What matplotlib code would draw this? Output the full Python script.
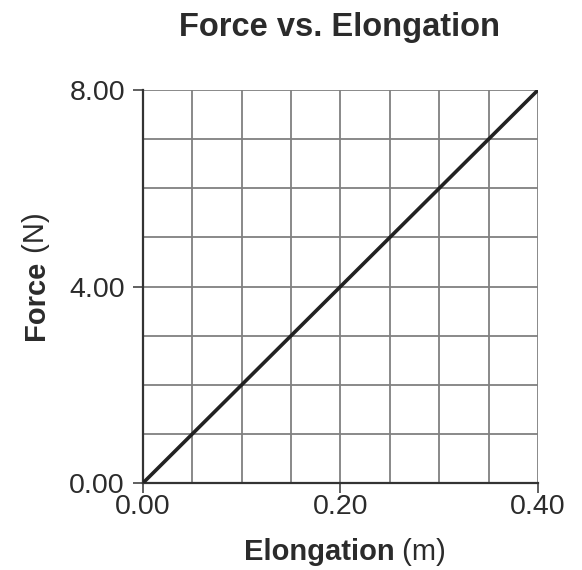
import matplotlib
matplotlib.use("Agg")
import matplotlib.pyplot as plt
import numpy as np

plt.rcParams['font.family'] = ['Liberation Sans', 'DejaVu Sans']

# data
elongation = [0.00, 0.40]
force = [0.00, 8.00]
x_ticks = [0.00, 0.20, 0.40]
y_ticks = [0.00, 4.00, 8.00]
x_grid = [0.05, 0.10, 0.15, 0.20, 0.25, 0.30, 0.35, 0.40]
y_grid = [1, 2, 3, 4, 5, 6, 7, 8]

TEXT_COLOR = '#2b2b2b'

fig = plt.figure(figsize=(5.82, 5.70), dpi=100)
ax = fig.add_axes([0.2457, 0.1526, 0.6787, 0.6895])

# grid drawn by hand so minor lines match the paper grid
for gx in x_grid:
    ax.axvline(gx, color='#808080', lw=1.3, zorder=1)
for gy in y_grid:
    ax.axhline(gy, color='#808080', lw=1.3, zorder=1)

ax.plot(elongation, force, color='#222222', lw=2.6, zorder=3, solid_capstyle='butt')

ax.set_xlim(0, 0.40)
ax.set_ylim(0, 8.00)
ax.set_xticks(x_ticks)
ax.set_yticks(y_ticks)
ax.set_xticklabels([f'{v:.2f}' for v in x_ticks])
ax.set_yticklabels([f'{v:.2f}' for v in y_ticks])
ax.tick_params(direction='out', length=7, width=1.2, color='#444444',
               labelsize=20.5, labelcolor=TEXT_COLOR)
ax.tick_params(axis='y', pad=6)
ax.tick_params(axis='x', pad=1)

for side in ['top', 'right']:
    ax.spines[side].set_visible(False)
for side in ['left', 'bottom']:
    ax.spines[side].set_color('#333333')
    ax.spines[side].set_linewidth(1.6)
    ax.spines[side].set_zorder(2)

fig.text(0.584, 0.951, 'Force vs. Elongation', ha='center', va='center',
         fontsize=23.5, fontweight='bold', color=TEXT_COLOR)

# x label: bold word + regular units
xl = fig.text(0.548, 0.018, 'Elongation', ha='center', va='baseline',
              fontsize=21, fontweight='bold', color=TEXT_COLOR)
ax.annotate(' (m)', xy=(1, 0), xycoords=xl, ha='left', va='bottom',
            fontsize=21, color=TEXT_COLOR)

# y label: bold word + regular units, rotated
yl = fig.text(0.062, 0.473, 'Force', ha='center', va='center', rotation=90,
              fontsize=21, fontweight='bold', color=TEXT_COLOR)
ax.annotate(' (N)', xy=(1, 1), xycoords=yl, ha='right', va='bottom', rotation=90,
            fontsize=21, color=TEXT_COLOR)

fig.savefig('out.png', dpi=100)
